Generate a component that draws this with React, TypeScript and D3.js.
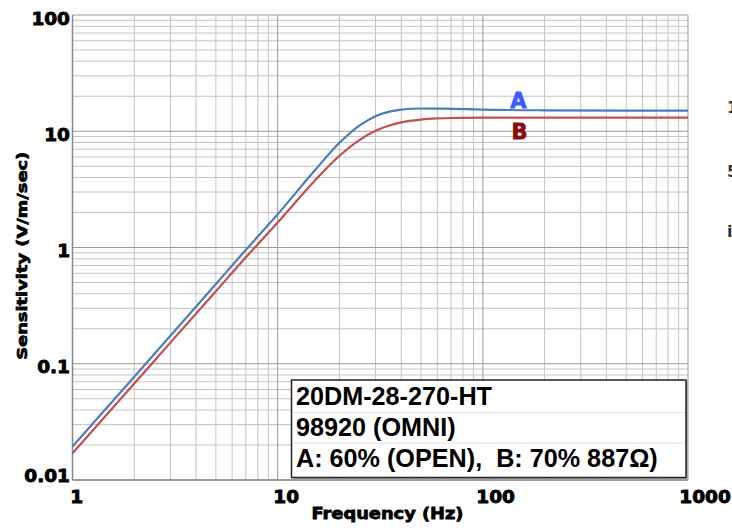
import React from "react";
import * as d3 from "d3";

// ---- data ----
const FREQ = [1, 2, 3, 5, 7, 10, 15, 20, 25, 30, 35, 40, 50, 60, 70, 100, 200, 500, 1000];
const SENS_A = [0.0194, 0.0772, 0.174, 0.486, 0.955, 1.93, 4.5, 7.95, 11.2, 13.45, 14.75, 15.35, 15.7, 15.68, 15.6, 15.35, 15.15, 15.07, 15.05];
const SENS_B = [0.017, 0.0675, 0.152, 0.421, 0.823, 1.64, 3.68, 6.15, 8.4, 10.1, 11.2, 11.92, 12.6, 12.88, 13.0, 13.08, 13.1, 13.1, 13.1];
const X_TICKS = [1, 10, 100, 1000];
const X_LABELS = ["1", "10", "100", "1000"];
const Y_TICKS = [0.01, 0.1, 1, 10, 100];
const Y_LABELS = ["0.01", "0.1", "1", "10", "100"];
const SERIES_NAMES = ["A", "B"];
const LEGEND_LINES = ["20DM-28-270-HT", "98920 (OMNI)", "A: 60% (OPEN),  B: 70% 887Ω)"];
const X_TITLE = "Frequency (Hz)";
const Y_TITLE = "Sensitivity (V/m/sec)";

const W = 732;
const H = 531;
const L = 72.5, R = 688, T = 15, B = 480;

const HEAVY = "'DejaVu Sans', sans-serif";
const ARIAL = "'Liberation Sans', Arial, sans-serif";

export default function App() {
  const x = d3.scaleLog().domain([1, 1000]).range([L, R]);
  const y = d3.scaleLog().domain([0.01, 100]).range([B, T]);

  const xGrid = x.ticks();
  const yGrid = y.ticks();
  const isMajor = (v: number) => Math.abs(Math.log10(v) - Math.round(Math.log10(v))) < 1e-9;

  const line = d3
    .line<number>()
    .x((_, i) => x(FREQ[i]))
    .y((d) => y(d))
    .curve(d3.curveMonotoneX);

  const legendTop = 380;

  return (
    <svg
      width={W}
      height={H}
      style={{ position: "absolute", left: 0, top: 0, background: "#fff" }}
      xmlns="http://www.w3.org/2000/svg"
    >
      <rect x={0} y={0} width={W} height={H} fill="#fff" />
      {/* grid */}
      {xGrid.filter((v) => !isMajor(v)).map((v) => (
        <line key={"xm" + v} x1={x(v)} x2={x(v)} y1={T} y2={B} stroke="#c4c4c4" strokeWidth={1} />
      ))}
      {yGrid.filter((v) => !isMajor(v)).map((v) => (
        <line key={"ym" + v} x1={L} x2={R} y1={y(v)} y2={y(v)} stroke="#c4c4c4" strokeWidth={1} />
      ))}
      {xGrid.filter((v) => isMajor(v)).map((v) => (
        <line key={"xM" + v} x1={x(v)} x2={x(v)} y1={T} y2={B} stroke="#9a9a9a" strokeWidth={1} />
      ))}
      {yGrid.filter((v) => isMajor(v)).map((v) => (
        <line key={"yM" + v} x1={L} x2={R} y1={y(v)} y2={y(v)} stroke="#9a9a9a" strokeWidth={1} />
      ))}
      {/* frame */}
      <line x1={L} x2={L} y1={T} y2={B} stroke="#888" strokeWidth={1.5} />
      <line x1={L} x2={R} y1={B} y2={B} stroke="#888" strokeWidth={1.5} />

      {/* series */}
      <path d={line(SENS_A) || ""} fill="none" stroke="#4a7ebb" strokeWidth={2.2} />
      <path d={line(SENS_B) || ""} fill="none" stroke="#c0504d" strokeWidth={2.2} />

      {/* series labels */}
      <text x={518.5} y={108} textAnchor="middle" fontFamily={HEAVY} fontWeight="bold" fontSize={21} fill="#3c5cff" stroke="#3c5cff" strokeWidth={0.8}>
        {SERIES_NAMES[0]}
      </text>
      <text x={519.5} y={139} textAnchor="middle" fontFamily={HEAVY} fontWeight="bold" fontSize={21} fill="#8b0a0a" stroke="#8b0a0a" strokeWidth={0.8}>
        {SERIES_NAMES[1]}
      </text>

      {/* legend box */}
      <rect x={293} y={legendTop + 1.5} width={395} height={98} fill="#aaa" />
      <rect x={291.5} y={legendTop} width={394.5} height={97.5} fill="#fff" stroke="#222" strokeWidth={1.5} />
      {[1, 2].map((i) => (
        <line key={"sep" + i} x1={292.5} x2={685} y1={legendTop + 2 + i * 30.5} y2={legendTop + 2 + i * 30.5} stroke="#e2e2e2" strokeWidth={1} />
      ))}
      {LEGEND_LINES.map((s, i) => (
        <text
          key={"lg" + i}
          x={296}
          y={405 + i * 30.8}
          fontFamily={ARIAL}
          fontWeight="bold"
          fontSize={25.2}
          fill="#000"
          style={{ whiteSpace: "pre" }}
        >
          {s}
        </text>
      ))}

      {/* y tick labels */}
      {Y_TICKS.map((v, i) => (
        <text
          key={"yl" + v}
          x={70}
          y={y(v) + (i === 0 ? 1.7 : 9.7)}
          textAnchor="end"
          fontFamily={HEAVY}
          fontWeight="bold"
          fontSize={18.5}
          fill="#000"
          stroke="#000"
          strokeWidth={0.9}
        >
          {Y_LABELS[i]}
        </text>
      ))}
      {/* x tick labels */}
      {X_TICKS.map((v, i) => (
        <text
          key={"xl" + v}
          x={x(v)}
          dx={-0.118 * X_LABELS[i].length + "em"}
          y={502.5}
          textAnchor="start"
          fontFamily={HEAVY}
          fontWeight="bold"
          fontSize={18.5}
          fill="#000"
          stroke="#000"
          strokeWidth={0.9}
        >
          {X_LABELS[i]}
        </text>
      ))}

      {/* axis titles */}
      <text
        x={387.5}
        y={519.3}
        textAnchor="middle"
        fontFamily={HEAVY}
        fontWeight="bold"
        fontSize={16.5}
        textLength={152}
        lengthAdjust="spacingAndGlyphs"
        fill="#000"
        stroke="#000"
        strokeWidth={0.8}
      >
        {X_TITLE}
      </text>
      <text
        transform="translate(26.7,255.8) rotate(-90)"
        x={0}
        y={0}
        textAnchor="middle"
        fontFamily={HEAVY}
        fontWeight="bold"
        fontSize={14}
        textLength={208}
        lengthAdjust="spacingAndGlyphs"
        fill="#000"
        stroke="#000"
        strokeWidth={0.7}
      >
        {Y_TITLE}
      </text>

      {/* fragments of text clipped at the right edge, as in the reference */}
      <text x={727} y={113} fontFamily={HEAVY} fontWeight="bold" fontSize={16} fill="#333">1</text>
      <text x={727} y={177} fontFamily={HEAVY} fontWeight="bold" fontSize={16} fill="#333">5</text>
      <text x={727} y={237} fontFamily={HEAVY} fontWeight="bold" fontSize={16} fill="#333">i</text>
    </svg>
  );
}
